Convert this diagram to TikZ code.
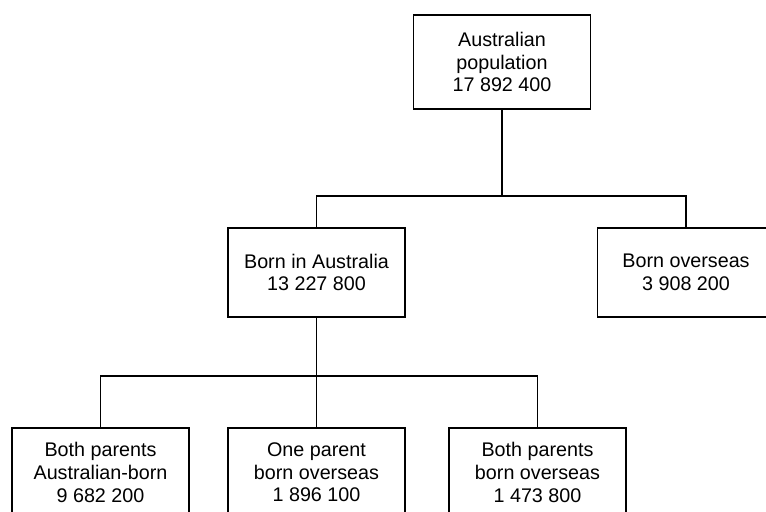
\documentclass[tikz,border=0pt]{standalone}
\usepackage{fontspec}
\setmainfont{Liberation Sans}
\usepackage{tikz}

\tikzset{popbox/.style={draw, line width=1.1pt, inner sep=0.75pt, align=center,
    minimum width=133pt, minimum height=67pt,
    font=\fontsize{14.8}{17}\selectfont},
  link/.style={line width=1.1pt}}

\begin{document}
\begin{tikzpicture}[x=0.75pt,y=0.75pt,yscale=-1,xscale=1]
\clip (0,0) rectangle (766,511); %set diagram size 766 x 511


% Box Node
\node (total) at (502,62) [popbox, minimum height=70.5pt] {Australian\\population\\17 892 400};
% Box Node
\node (bornaus) at (316.5,272.5) [popbox] {Born in Australia\\13 227 800};
% Box Node
\node (bornover) at (686,272.5) [popbox] {Born overseas\\3 908 200};
% Box Node
\node (bothaus) at (100.5,472.5) [popbox] {Both parents\\Australian-born\\9 682 200};
% Box Node
\node (oneover) at (316.5,472.5) [popbox] {One parent\\born overseas\\1 896 100};
% Box Node
\node (bothover) at (537.5,472.5) [popbox] {Both parents\\born overseas\\1 473 800};

% Connectors
\coordinate (split1) at (502,196);
\coordinate (split2) at (316.5,376);
\draw [link] (total.south) -- (split1);
\draw [link] (bornaus.north) |- (split1) -| (bornover.north);
\draw [link] (bornaus.south) -- (split2);
\draw [link] (bothaus.north) |- (split2) -| (bothover.north);
\draw [link] (split2) -- (oneover.north);


\end{tikzpicture}
\end{document}
